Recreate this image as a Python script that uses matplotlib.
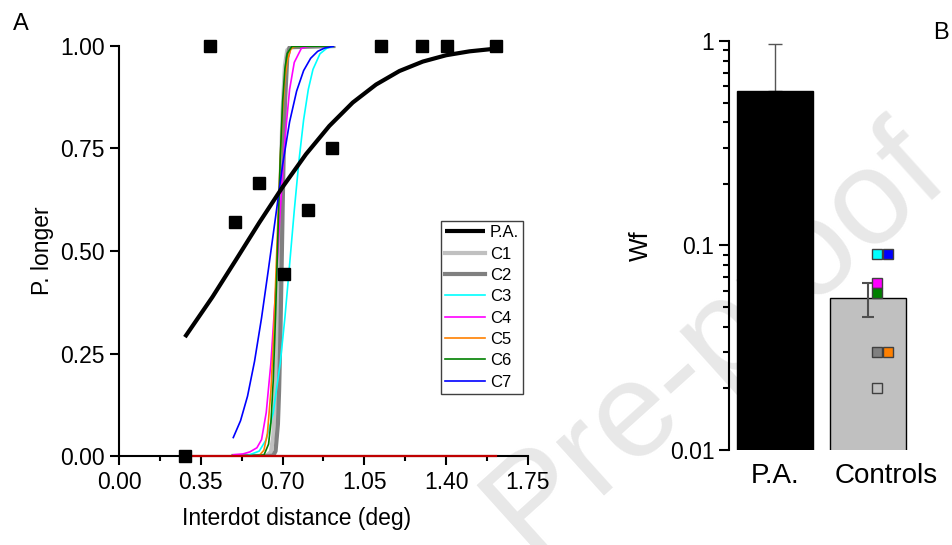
import matplotlib
matplotlib.use("Agg")
import matplotlib.pyplot as plt
from matplotlib.ticker import FixedLocator, FormatStrFormatter, LogLocator, NullFormatter

plt.rcParams['font.family'] = ['Liberation Sans', 'DejaVu Sans']

# ---- panel A: psychometric data ----
pa_pts_x = [0.282, 0.388, 0.495, 0.598, 0.704, 0.807, 0.913, 1.122, 1.297, 1.404, 1.613]
pa_pts_y = [0.0, 1.0, 0.571, 0.667, 0.444, 0.6, 0.75, 1.0, 1.0, 1.0, 1.0]

pa_fit_x = [0.282, 0.40, 0.50, 0.60, 0.70, 0.80, 0.90, 1.00, 1.10, 1.20, 1.30, 1.40, 1.50, 1.615]
pa_fit_y = [0.290, 0.388, 0.478, 0.569, 0.656, 0.736, 0.805, 0.862, 0.906, 0.939, 0.962, 0.9775, 0.987, 0.9937]

c1_x = [0.49, 0.63, 0.65, 0.66, 0.67, 0.675, 0.68, 0.685, 0.69, 0.695, 0.70, 0.71, 0.72, 0.74, 0.917]
c1_y = [0.0, 0.0, 0.010, 0.048, 0.159, 0.252, 0.37, 0.5, 0.63, 0.748, 0.841, 0.952, 0.990, 1.0, 1.0]

c2_x = [0.49, 0.64, 0.66, 0.67, 0.68, 0.685, 0.69, 0.695, 0.70, 0.705, 0.71, 0.72, 0.73, 0.917]
c2_y = [0.0, 0.0, 0.001, 0.012, 0.078, 0.159, 0.28, 0.434, 0.599, 0.748, 0.861, 0.972, 0.997, 1.0]

c3_x = [0.49, 0.55, 0.60, 0.63, 0.66, 0.69, 0.71, 0.73, 0.75, 0.77, 0.79, 0.81, 0.83, 0.86, 0.89, 0.917]
c3_y = [0.0, 0.001, 0.012, 0.040, 0.106, 0.227, 0.338, 0.467, 0.599, 0.720, 0.820, 0.894, 0.943, 0.981, 0.995, 0.999]

c4_x = [0.49, 0.53, 0.56, 0.59, 0.61, 0.63, 0.65, 0.67, 0.69, 0.71, 0.73, 0.75, 0.78, 0.81, 0.85, 0.917]
c4_y = [0.003, 0.005, 0.01, 0.02, 0.040, 0.106, 0.227, 0.401, 0.599, 0.773, 0.894, 0.960, 0.994, 0.999, 1.0, 1.0]

c5_x = [0.49, 0.56, 0.60, 0.62, 0.635, 0.65, 0.66, 0.67, 0.68, 0.69, 0.70, 0.71, 0.72, 0.735, 0.75, 0.78, 0.917]
c5_y = [0.0, 0.0, 0.001, 0.014, 0.055, 0.159, 0.274, 0.421, 0.579, 0.726, 0.841, 0.919, 0.964, 0.992, 0.9987, 1.0, 1.0]

c6_x = [0.49, 0.62, 0.64, 0.65, 0.66, 0.67, 0.68, 0.69, 0.70, 0.71, 0.72, 0.74, 0.917]
c6_y = [0.0, 0.002, 0.029, 0.081, 0.184, 0.345, 0.54, 0.726, 0.864, 0.945, 0.982, 0.999, 1.0]

c7_x = [0.489, 0.52, 0.55, 0.58, 0.61, 0.64, 0.67, 0.70, 0.73, 0.76, 0.79, 0.82, 0.85, 0.88, 0.917]
c7_y = [0.045, 0.086, 0.146, 0.231, 0.337, 0.458, 0.583, 0.71, 0.815, 0.89, 0.94, 0.97, 0.987, 0.995, 0.999]

red_x = [0.282, 1.615]
red_y = [0.0, 0.0]

x_ticks = [0.0, 0.35, 0.70, 1.05, 1.40, 1.75]
y_ticks = [0.0, 0.25, 0.50, 0.75, 1.00]

# ---- panel B: Wf ----
groups = ["P.A.", "Controls"]
wf_mean = [0.569, 0.0553]
wf_err_lo = [0.0, 0.0553 - 0.0446]
wf_err_hi = [0.967 - 0.569, 0.0653 - 0.0553]
ctrl_names = ["C1", "C2", "C3", "C4", "C5", "C6", "C7"]
ctrl_wf = [0.0201, 0.0301, 0.0909, 0.0652, 0.0301, 0.0586, 0.0909]
ctrl_colors = ["#c0c0c0", "#808080", "#00ffff", "#ff00ff", "#ff8000", "#008000", "#0000ff"]
ctrl_offset = [0.1, 0.1, 0.1, 0.1, 0.21, 0.1, 0.21]

fig = plt.figure(figsize=(9.52, 5.45), dpi=100)

# journal watermark, behind everything
fig.text(0.752, 0.38, "Pre-proof", fontsize=98, color="#e8e8e8", rotation=42,
         ha="center", va="center", zorder=-5)

ax = fig.add_axes([0.125, 0.1633, 0.4296, 0.7523])
ax.patch.set_visible(False)

line_styles = [
    (c1_x, c1_y, "#c0c0c0", 3.0, "C1"),
    (c2_x, c2_y, "#808080", 3.0, "C2"),
    (c3_x, c3_y, "#00ffff", 1.2, "C3"),
    (c4_x, c4_y, "#ff00ff", 1.2, "C4"),
    (c5_x, c5_y, "#ff8000", 1.2, "C5"),
    (c6_x, c6_y, "#008000", 1.2, "C6"),
    (c7_x, c7_y, "#0000ff", 1.2, "C7"),
]
handles = []
h_pa, = ax.plot(pa_fit_x, pa_fit_y, color="black", lw=3.0, label="P.A.", zorder=4,
                solid_capstyle="butt")
handles.append(h_pa)
for xs, ys, col, lw, name in line_styles:
    h, = ax.plot(xs, ys, color=col, lw=lw, label=name, zorder=3)
    handles.append(h)
ax.plot(red_x, red_y, color="#c00000", lw=1.6, zorder=5, clip_on=False)
ax.plot(pa_pts_x, pa_pts_y, "s", color="black", ms=9, zorder=6, clip_on=False)

ax.set_xlim(0, 1.75)
ax.set_ylim(0, 1.0)
ax.xaxis.set_major_locator(FixedLocator(x_ticks))
ax.xaxis.set_minor_locator(FixedLocator([t + 0.175 for t in x_ticks[:-1]]))
ax.yaxis.set_major_locator(FixedLocator(y_ticks))
ax.xaxis.set_major_formatter(FormatStrFormatter("%.2f"))
ax.yaxis.set_major_formatter(FormatStrFormatter("%.2f"))
for s in ["top", "right"]:
    ax.spines[s].set_visible(False)
for s in ["left", "bottom"]:
    ax.spines[s].set_linewidth(1.5)
ax.tick_params(which="major", direction="out", length=6.5, width=1.5, labelsize=16.5, pad=4)
ax.tick_params(which="minor", direction="out", length=3.5, width=1.5)
ax.set_xlabel("Interdot distance (deg)", fontsize=16.5, labelpad=3)
ax.xaxis.set_label_coords(0.435, -0.125)
ax.set_ylabel("P. longer", fontsize=16.5, labelpad=4)

leg = ax.legend(handles=handles, loc="upper left", bbox_to_anchor=(0.787, 0.573),
                borderaxespad=0, fontsize=12, frameon=True, fancybox=False,
                framealpha=1, edgecolor="#404040", handlelength=2.4, handletextpad=0.3,
                labelspacing=0.38, borderpad=0.25)
leg.get_frame().set_linewidth(1.0)

fig.text(0.0137, 0.945, "A", fontsize=17)

# ---- panel B ----
bx = fig.add_axes([0.7658, 0.1743, 0.1949, 0.7505])
bx.patch.set_visible(False)
bar_x = [0, 1]
bx.bar(bar_x, wf_mean, width=0.817, color=["black", "#c0c0c0"], edgecolor="black",
       linewidth=1.0, zorder=2)
bx.errorbar([0], [wf_mean[0]], yerr=[[wf_err_lo[0]], [wf_err_hi[0]]], fmt="none",
            ecolor="#555555", elinewidth=1.0, capsize=4.7, capthick=1.0, zorder=1)
bx.errorbar([1], [wf_mean[1]], yerr=[[wf_err_lo[1]], [wf_err_hi[1]]], fmt="none",
            ecolor="#505050", elinewidth=1.5, capsize=4, capthick=1.5, zorder=3)
for v, col, off in zip(ctrl_wf, ctrl_colors, ctrl_offset):
    bx.plot([1 + off], [v], "s", ms=7.5, markerfacecolor=col, markeredgecolor="#404040",
            markeredgewidth=1.0, zorder=4)

bx.set_yscale("log")
bx.set_ylim(0.01, 1)
bx.set_xlim(-0.495, 1.5)
bx.yaxis.set_major_locator(FixedLocator([0.01, 0.1, 1]))
bx.yaxis.set_major_formatter(FormatStrFormatter("%g"))
bx.yaxis.set_minor_locator(LogLocator(base=10, subs=range(2, 10)))
bx.yaxis.set_minor_formatter(NullFormatter())
bx.set_xticks([0, 1.2])
bx.set_xticklabels(groups)
for s in ["top", "right", "bottom"]:
    bx.spines[s].set_visible(False)
bx.spines["left"].set_linewidth(1.5)
bx.tick_params(axis="y", which="major", direction="out", length=7, width=1.5, labelsize=16.5)
bx.tick_params(axis="y", which="minor", direction="out", length=4, width=1.5)
bx.tick_params(axis="x", length=0, labelsize=20, pad=9)
bx.set_ylabel("Wf", fontsize=18, labelpad=12)

fig.text(0.980, 0.928, "B", fontsize=17)

fig.savefig("out.png", dpi=100)
